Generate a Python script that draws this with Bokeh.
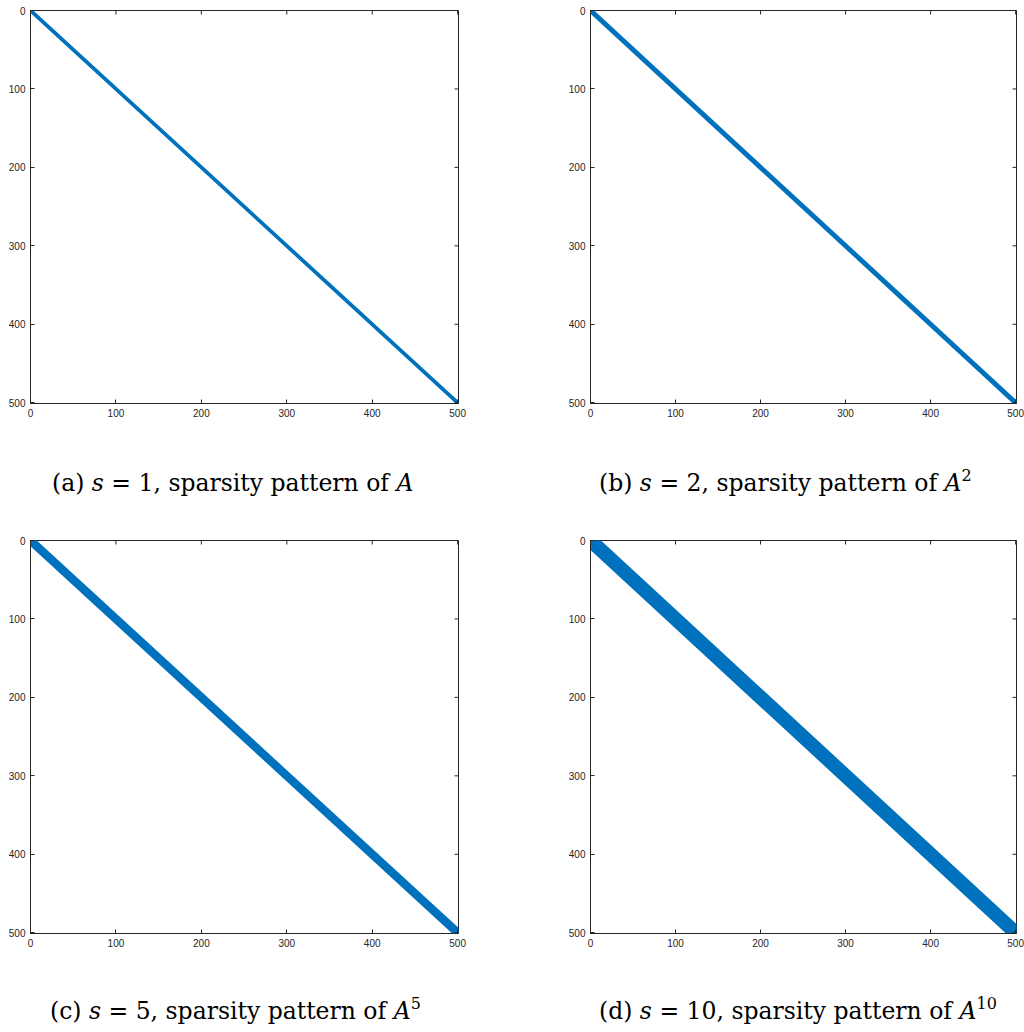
import math
from bokeh.plotting import figure
from bokeh.models import Range1d, FixedTicker, Div, ColumnDataSource
from bokeh.layouts import column, row
from bokeh.embed import file_html
from bokeh.resources import INLINE

# ---- data ----
n = 500                      # matrix size
bandwidths = [1, 2, 5, 10]   # s for each panel
letters = ["a", "b", "c", "d"]
tick_values = [0, 100, 200, 300, 400, 500]

BLUE = "#0072BD"
AX = "#262626"

def band_polygon(n, s):
    xs = [1, 1 + s, n, n, n - s, 1]
    ys = [1, 1, n - s, n, n, 1 + s]
    return xs, ys

def make_panel(s, frame_w, left, right):
    p = figure(frame_width=frame_w, frame_height=393, output_backend="svg", toolbar_location=None,
               x_range=Range1d(0, n + 1), y_range=Range1d(n + 1, 0),
               min_border_left=left, min_border_right=right,
               min_border_top=10, min_border_bottom=22, margin=(0, 0, 0, 0))
    p.grid.visible = False
    p.outline_line_color = AX
    p.outline_line_width = 1
    p.background_fill_color = "white"
    p.border_fill_color = "white"
    xs, ys = band_polygon(n, s)
    src = ColumnDataSource(dict(xs=[xs], ys=[ys]))
    p.patches("xs", "ys", source=src, fill_color=BLUE, line_color=BLUE,
              line_width=2.6, line_join="round")
    ticker = FixedTicker(ticks=tick_values)
    for ax in (p.xaxis[0], p.yaxis[0]):
        ax.ticker = ticker
        ax.axis_line_color = AX
        ax.major_tick_line_color = AX
        ax.major_tick_in = 4
        ax.major_tick_out = 0
        ax.minor_tick_in = 0
        ax.minor_tick_out = 0
        ax.major_label_text_color = AX
        ax.major_label_text_font = "Liberation Sans"
        ax.major_label_text_font_size = "10px"
        ax.major_label_standoff = 5
    # inward ticks on the top and right edges of the box (half outside is clipped)
    top = ColumnDataSource(dict(x=tick_values, y=[0] * len(tick_values)))
    rgt = ColumnDataSource(dict(x=[n + 1] * len(tick_values), y=tick_values))
    p.scatter("x", "y", source=top, marker="dash", angle=math.pi / 2, size=8,
              line_color=AX, line_width=1)
    p.scatter("x", "y", source=rgt, marker="dash", angle=0, size=8,
              line_color=AX, line_width=1)
    return p

def caption(letter, s, width, height, top, left):
    sup = "" if s == 1 else f"<sup style='font-size:16px;vertical-align:10px;line-height:0'>{s}</sup>"
    html = (f"<div style=\"position:relative; top:{top}px; left:{left}px; white-space:nowrap; "
            f"font-family:'DejaVu Serif'; font-size:23.5px; line-height:23.5px; color:#000\">"
            f"({letter}) <i>s</i> = {s}, sparsity pattern of <i>A</i>{sup}</div>")
    return Div(text=html, width=width, height=height, margin=(0, 0, 0, 0))

pa = make_panel(bandwidths[0], 428, 30, 102)
pb = make_panel(bandwidths[1], 426, 30, 8)
pc = make_panel(bandwidths[2], 428, 30, 102)
pd = make_panel(bandwidths[3], 426, 30, 8)

ca = caption(letters[0], bandwidths[0], 560, 105, 47, 52)
cb = caption(letters[1], bandwidths[1], 464, 105, 47, 39)
cc = caption(letters[2], bandwidths[2], 560, 75, 45, 50)
cd = caption(letters[3], bandwidths[3], 464, 75, 45, 39)

layout = column(row(pa, pb), row(ca, cb), row(pc, pd), row(cc, cd))

open("out.html", "w").write(file_html(layout, INLINE))
